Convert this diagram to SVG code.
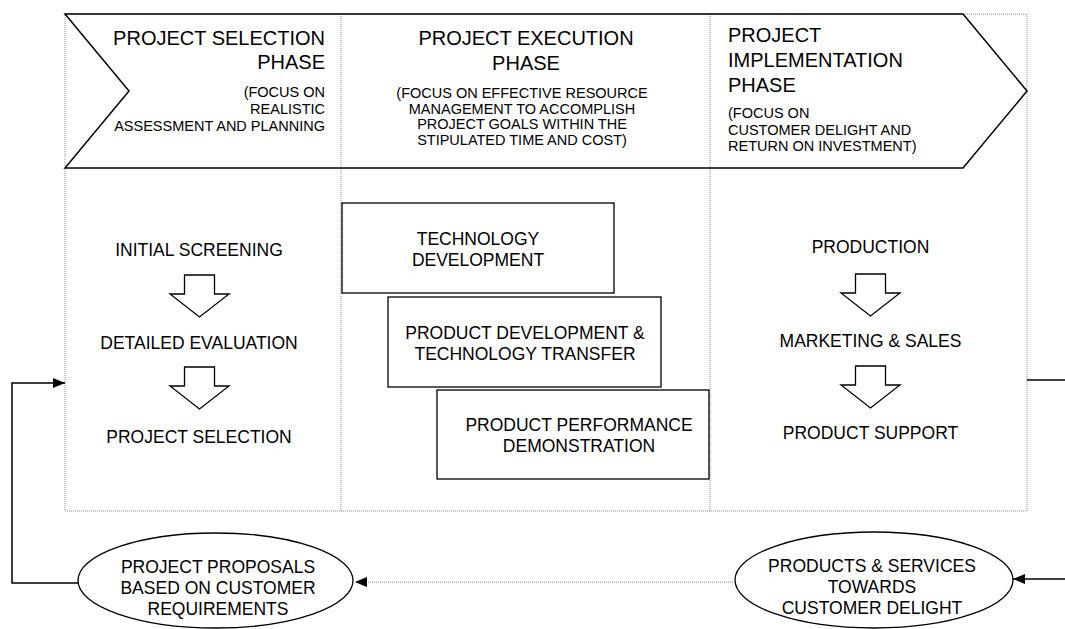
<svg xmlns="http://www.w3.org/2000/svg" width="1065" height="629" viewBox="0 0 1065 629">
  <style>
    text { font-family: "Liberation Sans", Arial, sans-serif; fill: #000; }
    .head { font-size: 20px; }
    .sub { font-size: 14.5px; }
    .lbl { font-size: 17.5px; }
    .dot { fill: none; stroke: #8a8a8a; stroke-width: 1; stroke-dasharray: 1 1; }
    .solid { fill: none; stroke: #000; stroke-width: 1.5; }
    .box { fill: #fff; stroke: #000; stroke-width: 1.3; }
    .harrow { fill: #fff; stroke: #000; stroke-width: 1.3; stroke-linejoin: miter; }
    .mid { text-anchor: middle; }
    .end { text-anchor: end; }
  </style>
  <defs>
    <marker id="tip" viewBox="0 0 12 10" refX="12" refY="5" markerWidth="12" markerHeight="10" markerUnits="userSpaceOnUse" orient="auto">
      <path d="M0,0 L12,5 L0,10 Z" fill="#000"/>
    </marker>
    <path id="downArrow" d="M-15,0 H15 V19 H29.5 L0,42 L-29.5,19 H-15 Z"/>
  </defs>

  <!-- phase frame: dotted outline and column dividers -->
  <g id="frame">
    <rect class="dot" x="65" y="14" width="962" height="497"/>
    <line class="dot" x1="341" y1="14" x2="341" y2="511"/>
    <line class="dot" x1="710" y1="14" x2="710" y2="511"/>
  </g>

  <!-- chevron band across the phase headers -->
  <g id="chevron">
    <path d="M65,14 H963 L1027,91 L963,168 H65 L129,91 Z" fill="none" stroke="#000" stroke-width="1.5" stroke-linejoin="miter"/>
  </g>

  <g id="phase-selection">
    <text class="head end" x="325" y="45">PROJECT SELECTION</text>
    <text class="head end" x="325" y="69">PHASE</text>
    <text class="sub end" x="325" y="97">(FOCUS ON</text>
    <text class="sub end" x="325" y="114">REALISTIC</text>
    <text class="sub end" x="325" y="131">ASSESSMENT AND PLANNING</text>
  </g>

  <g id="phase-execution">
    <text class="head mid" x="526" y="45">PROJECT EXECUTION</text>
    <text class="head mid" x="526" y="70">PHASE</text>
    <text class="sub mid" x="522" y="98">(FOCUS ON EFFECTIVE RESOURCE</text>
    <text class="sub mid" x="522" y="114">MANAGEMENT TO ACCOMPLISH</text>
    <text class="sub mid" x="522" y="129">PROJECT GOALS WITHIN THE</text>
    <text class="sub mid" x="522" y="145">STIPULATED TIME AND COST)</text>
  </g>

  <g id="phase-implementation">
    <text class="head" x="728" y="42">PROJECT</text>
    <text class="head" x="728" y="67">IMPLEMENTATION</text>
    <text class="head" x="728" y="92">PHASE</text>
    <text class="sub" x="728" y="118">(FOCUS ON</text>
    <text class="sub" x="728" y="135">CUSTOMER DELIGHT AND</text>
    <text class="sub" x="728" y="151">RETURN ON INVESTMENT)</text>
  </g>

  <!-- selection steps -->
  <g id="initial-screening">
    <text class="lbl mid" x="199" y="256">INITIAL SCREENING</text>
  </g>
  <g id="step-arrow-1">
    <use href="#downArrow" class="harrow" x="199.5" y="275"/>
  </g>
  <g id="detailed-evaluation">
    <text class="lbl mid" x="199" y="349">DETAILED EVALUATION</text>
  </g>
  <g id="step-arrow-2">
    <use href="#downArrow" class="harrow" x="199.5" y="367"/>
  </g>
  <g id="project-selection">
    <text class="lbl mid" x="199" y="443">PROJECT SELECTION</text>
  </g>

  <!-- execution work packages -->
  <g id="technology-development">
    <rect class="box" x="342" y="203" width="272" height="90"/>
    <text class="lbl mid" x="478" y="245">TECHNOLOGY</text>
    <text class="lbl mid" x="478" y="266">DEVELOPMENT</text>
  </g>
  <g id="product-development">
    <rect class="box" x="388" y="297" width="273" height="90"/>
    <text class="lbl mid" x="525" y="339">PRODUCT DEVELOPMENT &amp;</text>
    <text class="lbl mid" x="525" y="360">TECHNOLOGY TRANSFER</text>
  </g>
  <g id="performance-demonstration">
    <rect class="box" x="437" y="390" width="272" height="89"/>
    <text class="lbl mid" x="579" y="431">PRODUCT PERFORMANCE</text>
    <text class="lbl mid" x="579" y="452">DEMONSTRATION</text>
  </g>

  <!-- implementation steps -->
  <g id="production">
    <text class="lbl mid" x="870.5" y="253">PRODUCTION</text>
  </g>
  <g id="step-arrow-3">
    <use href="#downArrow" class="harrow" x="870.5" y="274"/>
  </g>
  <g id="marketing-sales">
    <text class="lbl mid" x="870.5" y="347">MARKETING &amp; SALES</text>
  </g>
  <g id="step-arrow-4">
    <use href="#downArrow" class="harrow" x="870.5" y="366"/>
  </g>
  <g id="product-support">
    <text class="lbl mid" x="870.5" y="439">PRODUCT SUPPORT</text>
  </g>

  <!-- customer loop ends -->
  <g id="project-proposals">
    <ellipse cx="215.5" cy="580.5" rx="137.5" ry="47.5" fill="#fff" stroke="#000" stroke-width="1.3"/>
    <text class="lbl mid" x="218" y="573">PROJECT PROPOSALS</text>
    <text class="lbl mid" x="218" y="594">BASED ON CUSTOMER</text>
    <text class="lbl mid" x="218" y="615">REQUIREMENTS</text>
  </g>
  <g id="products-services">
    <ellipse cx="874" cy="580" rx="139" ry="48" fill="#fff" stroke="#000" stroke-width="1.3"/>
    <text class="lbl mid" x="872" y="572">PRODUCTS &amp; SERVICES</text>
    <text class="lbl mid" x="872" y="593">TOWARDS</text>
    <text class="lbl mid" x="872" y="614">CUSTOMER DELIGHT</text>
  </g>

  <!-- connectors -->
  <g id="connectors">
    <polyline class="solid" points="78,583 12,583 12,383 65,383" marker-end="url(#tip)"/>
    <line class="solid" x1="1027" y1="380" x2="1065" y2="380"/>
    <line class="solid" x1="1065" y1="579" x2="1013" y2="579" marker-end="url(#tip)"/>
    <line x1="735" y1="582" x2="355" y2="582" stroke="#8a8a8a" stroke-width="1" stroke-dasharray="1 1" marker-end="url(#tip)"/>
  </g>
</svg>
